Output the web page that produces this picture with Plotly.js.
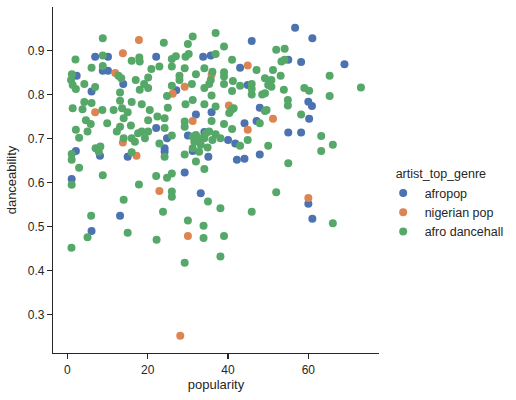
<!DOCTYPE html>
<html>
<head>
<meta charset="utf-8">
<script src="https://cdn.plot.ly/plotly-3.0.1.min.js"></script>
<style>
  html, body { margin: 0; padding: 0; background: #ffffff; }
  #chart { width: 516px; height: 400px; }
</style>
</head>
<body>
<div id="chart"></div>
<script>
// popularity vs danceability, one series per artist_top_genre
const genres = ["afropop", "nigerian pop", "afro dancehall"];

const afropopPopularity = [6.9, 10.1, 22.1, 8.8, 10.1, 2.3, 13.9, 6.0, 22.1, 24.8, 24.2, 24.2, 8.1, 2.1, 15.0, 1.05,
  56.7, 45.9, 33.8, 35.7, 55.0, 43.0, 44.9, 47.9, 27.1, 32.0, 35.9, 44.1, 47.1, 55.0, 30.0, 34.1, 40.0, 41.8,
  31.2, 35.1, 42.2, 44.1, 47.9, 29.2, 33.2, 61.0, 58.2, 69.0, 60.0, 60.9, 60.2, 58.2, 60.0, 61.0, 13.1, 6.0];
const afropopDanceability = [0.886, 0.886, 0.886, 0.854, 0.854, 0.843, 0.824, 0.807, 0.724, 0.701, 0.678, 0.670, 0.661, 0.672, 0.659, 0.608,
  0.952, 0.922, 0.886, 0.889, 0.879, 0.861, 0.822, 0.770, 0.810, 0.755, 0.760, 0.735, 0.740, 0.714, 0.707, 0.715, 0.697, 0.689,
  0.672, 0.659, 0.652, 0.654, 0.664, 0.623, 0.576, 0.928, 0.874, 0.869, 0.784, 0.774, 0.745, 0.714, 0.552, 0.518, 0.525, 0.490];

const nigerianPopPopularity = [17.8, 13.8, 11.9, 26.2, 6.9, 13.8, 17.2, 22.9, 44.9, 29.2, 40.2, 31.2, 51.2, 44.9, 60.0, 30.0, 28.1, 35.9];
const nigerianPopDanceability = [0.924, 0.894, 0.849, 0.802, 0.760, 0.691, 0.661, 0.581, 0.866, 0.818, 0.775, 0.740, 0.745, 0.720, 0.565, 0.479, 0.252, 0.845];

const dancehallPopularity = [
  8.8, 24.0, 8.8, 2.0, 16.0, 17.9, 18.0, 26.0, 6.0, 8.8, 20.9, 22.9, 26.0, 12.7, 13.4, 1.1, 0.9, 4.2, 1.3, 20.1,
  17.0, 19.1, 2.1, 6.9, 13.1, 18.0, 20.1, 26.0, 24.8, 13.1, 16.0, 18.5, 4.2, 6.0,
  1.3, 3.75, 8.7, 11.5, 13.6, 15.0, 20.5, 25.0, 22.4, 24.2, 20.1, 14.0, 4.6, 5.8, 9.9, 15.8, 13.1, 12.3, 24.2, 2.1,
  5.0, 2.9, 14.0, 16.0, 17.6, 18.5, 20.1, 19.3, 16.8, 26.0, 22.9, 7.0, 8.2, 7.8, 1.05, 1.05, 16.0, 24.2, 2.9, 8.8,
  1.05, 17.8, 22.1, 24.8, 26.0, 26.0, 26.0, 14.0,
  36.9, 31.2, 30.0, 39.0, 52.0, 54.1, 27.0, 29.4, 30.2, 36.9, 41.0, 53.3, 54.1, 29.2, 47.1, 34.1, 36.1, 39.0, 39.0, 51.2,
  27.9, 27.9, 32.0, 49.2, 50.8, 50.0, 53.1, 35.7, 35.3, 41.2, 43.0, 45.9, 45.9, 45.9, 31.0, 34.1, 39.0, 41.0, 48.5, 53.9,
  50.8, 35.9, 31.2, 29.4, 34.1, 36.9, 41.4, 49.6, 54.9, 54.9,
  40.8, 40.3, 49.2, 29.2, 29.2, 35.9, 39.0, 47.9, 41.0, 31.2, 32.0, 31.6, 32.8, 34.1, 34.5, 35.3, 36.9, 36.1, 38.1, 33.2,
  34.9, 31.2, 32.8, 43.0, 44.9, 50.0, 29.2, 32.0, 55.0, 34.1, 52.0,
  49.2, 65.3, 59.0, 60.2, 73.1, 65.3, 58.2, 63.2, 66.1, 63.2, 66.1,
  35.0, 38.1, 45.9, 23.8, 30.0, 33.9, 33.9, 39.0, 22.2, 5.9, 15.0, 5.0, 1.0, 29.2, 38.1];
const dancehallDanceability = [
  0.928, 0.918, 0.889, 0.880, 0.877, 0.884, 0.875, 0.881, 0.861, 0.865, 0.858, 0.864, 0.864, 0.843, 0.837, 0.846, 0.833, 0.824, 0.822, 0.839,
  0.833, 0.824, 0.813, 0.817, 0.805, 0.811, 0.815, 0.820, 0.797, 0.786, 0.783, 0.778, 0.783, 0.781,
  0.769, 0.767, 0.765, 0.765, 0.769, 0.760, 0.765, 0.770, 0.750, 0.746, 0.742, 0.746, 0.742, 0.733, 0.735, 0.730, 0.727, 0.716, 0.724, 0.720,
  0.716, 0.702, 0.701, 0.701, 0.712, 0.716, 0.716, 0.701, 0.693, 0.707, 0.689, 0.678, 0.682, 0.670, 0.665, 0.652, 0.669, 0.659, 0.634, 0.617,
  0.595, 0.596, 0.615, 0.611, 0.621, 0.580, 0.568, 0.561,
  0.940, 0.932, 0.915, 0.909, 0.902, 0.904, 0.887, 0.886, 0.892, 0.892, 0.879, 0.875, 0.879, 0.860, 0.856, 0.860, 0.852, 0.851, 0.841, 0.856,
  0.843, 0.833, 0.846, 0.837, 0.833, 0.822, 0.843, 0.833, 0.824, 0.831, 0.820, 0.824, 0.813, 0.800, 0.824, 0.815, 0.824, 0.808, 0.800, 0.811,
  0.818, 0.798, 0.788, 0.778, 0.778, 0.773, 0.769, 0.765, 0.788, 0.775,
  0.765, 0.758, 0.763, 0.739, 0.727, 0.740, 0.733, 0.735, 0.722, 0.705, 0.708, 0.693, 0.701, 0.701, 0.712, 0.716, 0.710, 0.697, 0.701, 0.686,
  0.680, 0.678, 0.670, 0.684, 0.697, 0.684, 0.664, 0.648, 0.644, 0.631, 0.578,
  0.803, 0.843, 0.815, 0.809, 0.816, 0.797, 0.755, 0.706, 0.686, 0.672, 0.508,
  0.557, 0.542, 0.534, 0.534, 0.514, 0.502, 0.474, 0.479, 0.470, 0.525, 0.486, 0.476, 0.452, 0.418, 0.432];

const xTicks = [0, 20, 40, 60];
const yTicks = [0.3, 0.4, 0.5, 0.6, 0.7, 0.8, 0.9];

const palette = ["#4C72B0", "#DD8452", "#55A868"];
const ink = "#262626";
const font = "Liberation Sans, Arial, sans-serif";

const xs = [afropopPopularity, nigerianPopPopularity, dancehallPopularity];
const ys = [afropopDanceability, nigerianPopDanceability, dancehallDanceability];

const traces = genres.map((g, i) => ({
  type: "scatter",
  mode: "markers",
  name: g,
  x: xs[i],
  y: ys[i],
  marker: { color: palette[i], size: 8, line: { width: 0 } },
  hoverinfo: "x+y+name"
}));

const axisStyle = {
  showgrid: false,
  zeroline: false,
  showline: true,
  linecolor: ink,
  linewidth: 1.2,
  ticks: "outside",
  ticklen: 5,
  tickwidth: 1.2,
  tickcolor: ink,
  tickfont: { family: font, size: 12, color: ink },
  mirror: false
};

const layout = {
  width: 516,
  height: 400,
  paper_bgcolor: "#ffffff",
  plot_bgcolor: "#ffffff",
  margin: { l: 53, r: 131, t: 7, b: 47 },
  font: { family: font, color: ink },
  showlegend: true,
  xaxis: Object.assign({}, axisStyle, {
    range: [-3.6, 77.6],
    tickvals: xTicks,
    ticktext: xTicks.map(String),
    title: { text: "popularity", font: { family: font, size: 13, color: ink }, standoff: 4 }
  }),
  yaxis: Object.assign({}, axisStyle, {
    range: [0.213, 0.999],
    tickvals: yTicks,
    ticktext: yTicks.map(v => v.toFixed(1)),
    title: { text: "danceability", font: { family: font, size: 13, color: ink }, standoff: 8 }
  }),
  legend: {
    x: 1.045,
    xanchor: "left",
    y: 0.43,
    yanchor: "middle",
    bgcolor: "rgba(0,0,0,0)",
    borderwidth: 0,
    indentation: -12,
    itemwidth: 33,
    font: { family: font, size: 12.5, color: ink },
    title: { text: "artist_top_genre", font: { family: font, size: 12.5, color: ink } },
    tracegroupgap: 0
  }
};

Plotly.newPlot("chart", traces, layout, { displayModeBar: false, staticPlot: true });
</script>
</body>
</html>
